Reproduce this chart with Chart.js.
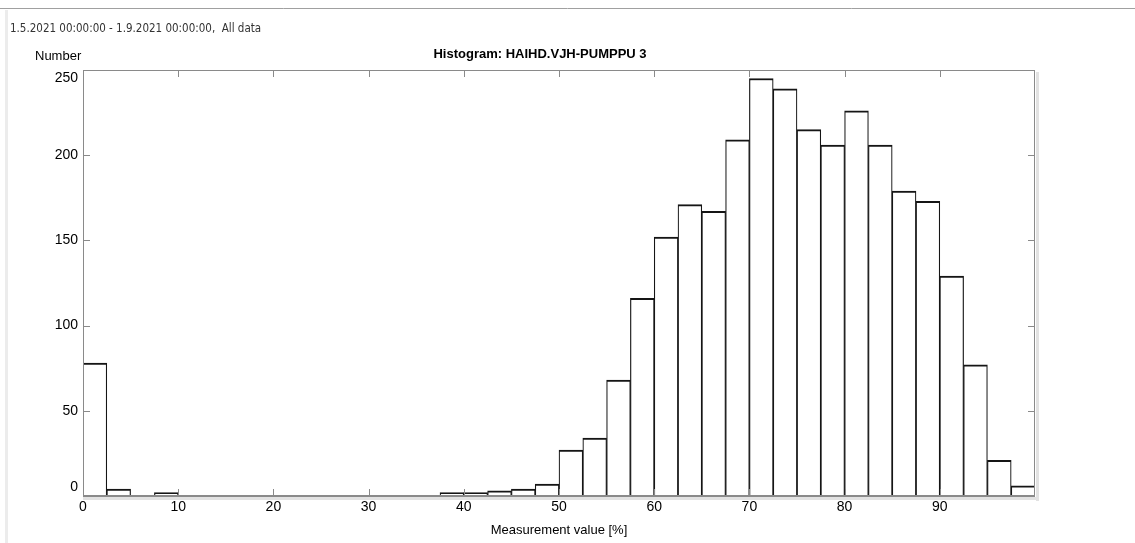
<!DOCTYPE html>
<html>
<head>
<meta charset="utf-8">
<script src="https://cdn.jsdelivr.net/npm/chart.js@4/dist/chart.umd.min.js"></script>
<style>
  body { margin: 0; background: #fff; }
  #wrap { position: relative; width: 1135px; height: 543px; }
</style>
</head>
<body>
<div id="wrap"><canvas id="histChart" width="1135" height="543"></canvas></div>
<script>
// bin centres (bin width 2.5 %) and counts
const binCenters = [
  1.25, 3.75, 6.25, 8.75, 11.25, 13.75, 16.25, 18.75, 21.25, 23.75,
  26.25, 28.75, 31.25, 33.75, 36.25, 38.75, 41.25, 43.75, 46.25, 48.75,
  51.25, 53.75, 56.25, 58.75, 61.25, 63.75, 66.25, 68.75, 71.25, 73.75,
  76.25, 78.75, 81.25, 83.75, 86.25, 88.75, 91.25, 93.75, 96.25, 98.75
];
const counts = [
  78, 4, 0, 2, 0, 0, 0, 0, 0, 0,
  0, 0, 0, 0, 0, 2, 2, 3, 4, 7,
  27, 34, 68, 116, 152, 171, 167, 209, 245, 239,
  215, 206, 226, 206, 179, 173, 129, 77, 21, 6
];
const xTicks = [0, 10, 20, 30, 40, 50, 60, 70, 80, 90, 100];
const yTicks = [0, 50, 100, 150, 200, 250];

const headerText = "1.5.2021 00:00:00 - 1.9.2021 00:00:00,  All data";
const titleText = "Histogram: HAIHD.VJH-PUMPPU 3";
const yName = "Number";
const xName = "Measurement value [%]";

const points = binCenters.map((c, i) => ({ x: c, y: counts[i] }));

// frame, inward tick marks and the loose texts
const framePlugin = {
  id: "frame",
  afterDraw(chart) {
    const { ctx, chartArea: a } = chart;
    const x = chart.scales.x;
    const y = chart.scales.y;
    ctx.save();

    // window chrome
    ctx.strokeStyle = "#a0a0a0";
    ctx.lineWidth = 1;
    ctx.beginPath();
    ctx.moveTo(0, 8.5);
    ctx.lineTo(1135, 8.5);
    ctx.stroke();
    ctx.fillStyle = "#ececec";
    ctx.fillRect(5, 10, 3, 533);

    // shadow right and below the plot
    ctx.fillStyle = "#e2e2e2";
    ctx.fillRect(a.right + 1, a.top + 2, 3, a.bottom - a.top + 3);
    ctx.fillRect(a.left, a.bottom + 1, a.right - a.left + 4, 3);

    // box
    ctx.strokeStyle = "#8a8a8a";
    ctx.lineWidth = 1;
    ctx.strokeRect(a.left + 0.5, a.top + 0.5, a.right - a.left - 1, a.bottom - a.top);
    ctx.lineWidth = 2;
    ctx.beginPath();
    ctx.moveTo(a.left, a.bottom);
    ctx.lineTo(a.right, a.bottom);
    ctx.stroke();

    // inward ticks
    ctx.lineWidth = 1;
    ctx.beginPath();
    xTicks.forEach(v => {
      if (v <= 0 || v >= 100) return;
      const px = Math.round(x.getPixelForValue(v)) + 0.5;
      ctx.moveTo(px, a.bottom);
      ctx.lineTo(px, a.bottom - 7);
      ctx.moveTo(px, a.top);
      ctx.lineTo(px, a.top + 7);
    });
    yTicks.forEach(v => {
      if (v <= 0 || v >= 250) return;
      const py = Math.round(y.getPixelForValue(v)) + 0.5;
      ctx.moveTo(a.left, py);
      ctx.lineTo(a.left + 7, py);
      ctx.moveTo(a.right, py);
      ctx.lineTo(a.right - 7, py);
    });
    ctx.stroke();

    // texts
    ctx.textBaseline = "middle";
    ctx.fillStyle = "#333";
    ctx.font = "11.5px 'Liberation Sans Narrow', 'DejaVu Sans Condensed', sans-serif";
    ctx.textAlign = "left";
    ctx.fillText(headerText, 10, 29);

    ctx.fillStyle = "#000";
    ctx.font = "bold 13px 'Liberation Sans', Arial, sans-serif";
    ctx.textAlign = "center";
    ctx.fillText(titleText, 540, 54);

    ctx.font = "13px 'Liberation Sans', Arial, sans-serif";
    ctx.textAlign = "left";
    ctx.fillText(yName, 35, 56);
    ctx.restore();
  }
};

const tickFont = { family: "'Liberation Sans', Arial, sans-serif", size: 14 };

const ctx = document.getElementById("histChart").getContext("2d");
const chart = new Chart(ctx, {
  type: "bar",
  data: {
    datasets: [{
      data: points,
      backgroundColor: "#ffffff",
      borderColor: "#151515",
      borderWidth: { top: 2, left: 1.2, right: 1.2, bottom: 0 },
      borderSkipped: false,
      barPercentage: 1,
      categoryPercentage: 1
    }]
  },
  options: {
    responsive: false,
    animation: false,
    layout: { padding: { left: 0, right: 100, top: 70, bottom: 0 } },
    plugins: {
      legend: { display: false },
      tooltip: { enabled: false }
    },
    scales: {
      x: {
        type: "linear",
        offset: false,
        min: 0,
        max: 100,
        afterFit: s => { s.height = 47; },
        afterBuildTicks: s => { s.ticks = xTicks.map(v => ({ value: v })); },
        grid: { display: false, drawTicks: false, offset: false },
        border: { display: false },
        ticks: {
          padding: 3,
          color: "#000",
          font: tickFont,
          maxRotation: 0,
          autoSkip: false,
          callback: v => (v === 100 ? "" : String(v))
        },
        title: {
          display: true,
          text: xName,
          color: "#000",
          font: { family: "'Liberation Sans', Arial, sans-serif", size: 13 },
          padding: { top: 0, bottom: 5 }
        }
      },
      y: {
        min: 0,
        max: 250,
        afterFit: s => { s.width = 83; },
        afterBuildTicks: s => { s.ticks = yTicks.map(v => ({ value: v })); },
        grid: { display: false, drawTicks: false },
        border: { display: false },
        ticks: {
          padding: 5,
          color: "#000",
          font: tickFont,
          callback: v => {
            if (v === 250) return ["", "250"];
            if (v === 0) return ["0", ""];
            return String(v);
          }
        }
      }
    }
  },
  plugins: [framePlugin]
});
</script>
</body>
</html>
